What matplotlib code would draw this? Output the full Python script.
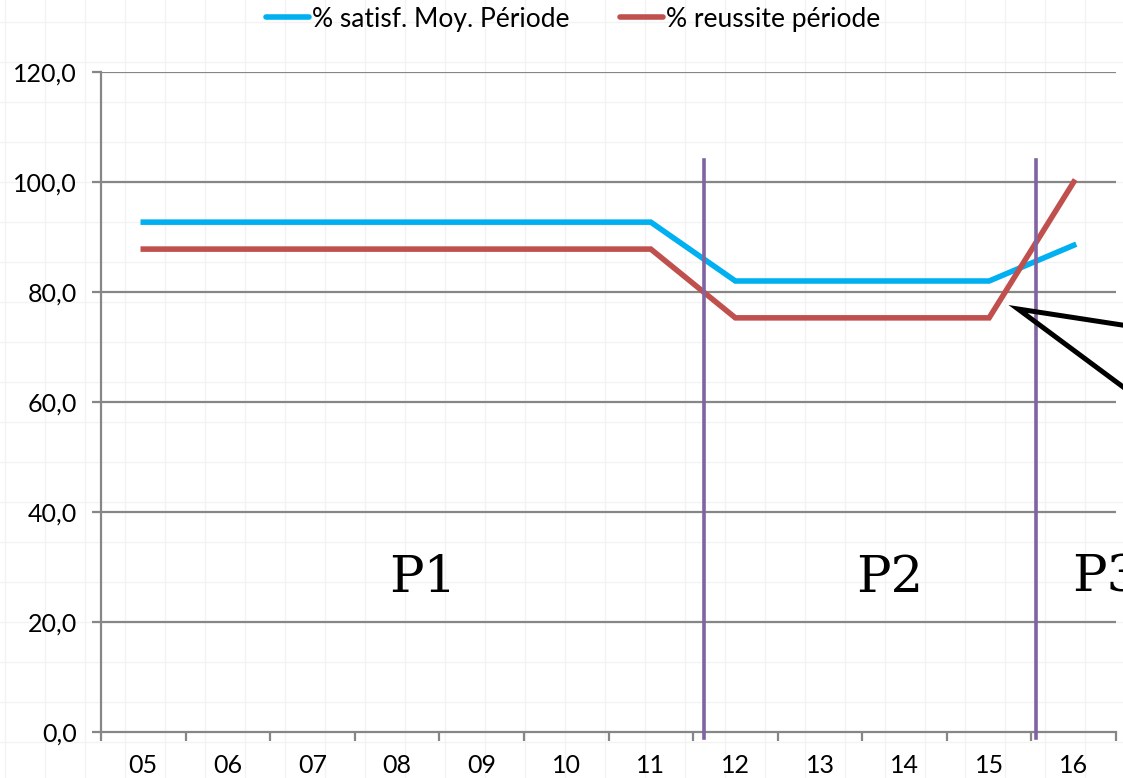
import matplotlib
matplotlib.use("Agg")
import matplotlib.pyplot as plt
from matplotlib.lines import Line2D

categories = ["05", "06", "07", "08", "09", "10", "11", "12", "13", "14", "15", "16"]
satisf = [92.7, 92.7, 92.7, 92.7, 92.7, 92.7, 92.7, 82.0, 82.0, 82.0, 82.0, 88.5]
reussite = [87.8, 87.8, 87.8, 87.8, 87.8, 87.8, 87.8, 75.3, 75.3, 75.3, 75.3, 100.0]
yticks = [0, 20, 40, 60, 80, 100, 120]
ytick_labels = ["0,0", "20,0", "40,0", "60,0", "80,0", "100,0", "120,0"]
period_labels = ["P1", "P2", "P3"]

W, H = 1123, 778
fig = plt.figure(figsize=(W / 100, H / 100), dpi=100)
fig.patch.set_facecolor("white")

# faint page grid
for xp in range(5, W, 40):
    fig.add_artist(Line2D([xp / W, xp / W], [0, 1], color="#f3f3f3", lw=1.0, zorder=0))
for yp in range(22, H, 40):
    fig.add_artist(Line2D([0, 1], [1 - yp / H, 1 - yp / H], color="#f3f3f3", lw=1.0, zorder=0))

ax = fig.add_axes([101 / W, (H - 732) / H, (1116 - 101) / W, (732 - 72) / H])
ax.patch.set_alpha(0)
x = list(range(len(categories)))
ax.set_xlim(-0.5, len(categories) - 0.5)
ax.set_ylim(0, 120)

gray = "#868686"
for yv in yticks[1:]:
    ax.axhline(yv, color=gray, lw=1.6, zorder=1)

for s in ["top", "right"]:
    ax.spines[s].set_visible(False)
for s in ["left", "bottom"]:
    ax.spines[s].set_color(gray)
    ax.spines[s].set_linewidth(1.6)

ax.set_yticks(yticks)
ax.set_yticklabels(ytick_labels)
ax.set_xticks(x)
ax.set_xticklabels(categories)
ax.set_xticks([i - 0.5 for i in range(len(categories) + 1)], minor=True)
ax.tick_params(axis="x", which="major", length=0, pad=16, labelsize=18)
ax.tick_params(axis="x", which="minor", length=6.5, width=1.6, color=gray)
ax.tick_params(axis="y", length=6.5, width=1.6, color=gray, labelsize=18, pad=11)
for lab in ax.get_xticklabels() + ax.get_yticklabels():
    lab.set_fontfamily("Lato")

l1, = ax.plot(x, satisf, color="#00B0F0", lw=4.0, solid_joinstyle="miter", zorder=3,
              label="% satisf. Moy. Période")
l2, = ax.plot(x, reussite, color="#C0504D", lw=4.0, solid_joinstyle="miter", zorder=3,
              label="% reussite période")

# period separators
for xs in [6.63, 10.55]:
    ax.plot([xs, xs], [104, -1], color="#8064A2", lw=2.6, clip_on=False, zorder=4)

# period labels
for xt, lab, ha in [(3.3, period_labels[0], "center"), (8.82, period_labels[1], "center"),
                    (10.98, period_labels[2], "left")]:
    ax.text(xt, 25.5, lab, ha=ha, va="baseline", fontsize=37,
            family="DejaVu Serif", zorder=5, clip_on=False)

# callout arrow lines (pixel-based then converted to data coords)
def px2data(px, py):
    return (px - 101) / (1015 / 12) - 0.5, (732 - py) / 5.5

tip = px2data(1018, 309)
e1 = px2data(1200, 337)
e2 = px2data(1200, 444)
ax.plot([e1[0], tip[0], e2[0]], [e1[1], tip[1], e2[1]], color="black", lw=3.6,
        solid_joinstyle="miter", clip_on=False, zorder=6)

leg = fig.legend(handles=[l1, l2], loc="center", bbox_to_anchor=(573 / W, 1 - 19 / H),
                 ncol=2, frameon=False, handlelength=1.65,
                 handletextpad=0.1, columnspacing=1.9, prop={"family": "Lato", "size": 19})
for h in leg.get_lines():
    h.set_solid_capstyle("round")
    h.set_linewidth(4.0)

fig.savefig("out.png", dpi=100)
